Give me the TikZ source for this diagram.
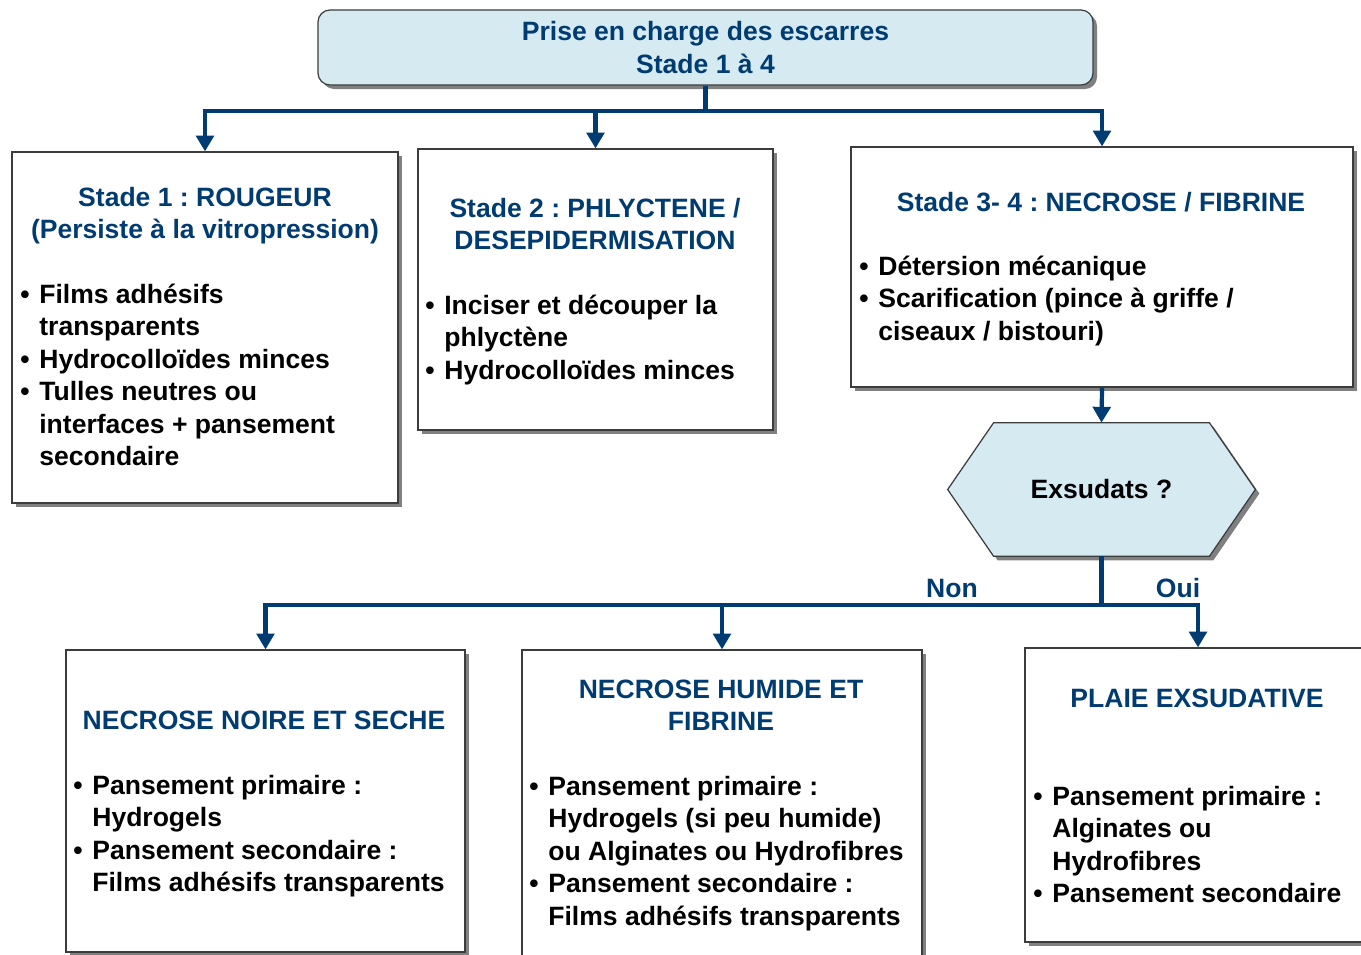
\documentclass[tikz,border=0pt]{standalone}
\usepackage{fontspec}
\setmainfont{Liberation Sans}
\usetikzlibrary{arrows.meta,shadows}
\newlength\pxu \setlength\pxu{0.02cm}
\definecolor{navy}{RGB}{0,60,113}
\definecolor{lblue}{RGB}{213,234,241}
\definecolor{bord}{RGB}{60,60,60}
\newcommand\bl{\makebox[19\pxu][l]{\textbullet}}
\frenchspacing
\begin{document}
\frenchspacing
\begin{tikzpicture}[x=0.02cm,y=-0.02cm,
  font=\fontsize{15.1}{18.5}\selectfont\bfseries\frenchspacing,
  shad/.style={drop shadow={shadow xshift=4\pxu,shadow yshift=-4\pxu,opacity=1,fill=black!50}},
  box/.style={draw=bord,line width=0.7pt,fill=white,inner sep=0,shad},
  ttl/.style={inner sep=0,anchor=base,text=navy},
  lst/.style={inner sep=0,anchor=base west,text=black},
  lbl/.style={inner sep=0,anchor=base,text=navy},
  conn/.style={draw=navy,line width=2.4pt},
  arr/.style={conn,-{Triangle[width=10pt,length=9pt]}}]
\clip (0,0) rectangle (1361,954);
\fill[white] (0,0) rectangle (1361,954);
% top box
\node[box,fill=lblue,rounded corners=12\pxu,minimum width=775\pxu,minimum height=75\pxu,text=navy,align=center]
  (top) at (705.5,47.5) {Prise en charge des escarres\\Stade 1 à 4};
% boxes
\node[box,minimum width=386\pxu,minimum height=351\pxu] (b1) at (205,327.5) {};
\node[box,minimum width=355\pxu,minimum height=281\pxu] (b2) at (595.5,289.5) {};
\node[box,minimum width=502\pxu,minimum height=240\pxu] (b3) at (1102,267) {};
\node[box,minimum width=399\pxu,minimum height=302\pxu] (b4) at (265.5,801) {};
\node[box,minimum width=400\pxu,minimum height=308\pxu] (b5) at (722,804) {};
\node[box,minimum width=346\pxu,minimum height=294\pxu] (b6) at (1198,795) {};
% hexagon
\node[inner sep=0,minimum width=307\pxu,minimum height=133\pxu] (hex) at (1101.5,489.5) {};
\draw[draw=bord,line width=0.7pt,fill=lblue,shad]
  (hex.west) -- ([xshift=46\pxu]hex.north west) -- ([xshift=-46\pxu]hex.north east)
  -- (hex.east) -- ([xshift=-46\pxu]hex.south east) -- ([xshift=46\pxu]hex.south west) -- cycle;
\node[inner sep=0,text=black] (hext) at (hex.center) {Exsudats ?};
% texts
\node[ttl] (t1) at (205,206) {\begin{tabular}[t]{@{}c@{}}Stade 1 : ROUGEUR\\(Persiste à la vitropression)\end{tabular}};
\node[lst] (l1) at (20,303) {\begin{tabular}[t]{@{}l@{}l@{}}\bl&Films adhésifs\\&transparents\\\bl&Hydrocolloïdes minces\\\bl&Tulles neutres ou\\&interfaces + pansement\\&secondaire\end{tabular}};
\node[ttl] (t2) at (595,217) {\begin{tabular}[t]{@{}c@{}}Stade 2 : PHLYCTENE /\\DESEPIDERMISATION\end{tabular}};
\node[lst] (l2) at (425,314) {\begin{tabular}[t]{@{}l@{}l@{}}\bl&Inciser et découper la\\&phlyctène\\\bl&Hydrocolloïdes minces\end{tabular}};
\node[ttl] (t3) at (1101,211) {Stade 3- 4 : NECROSE / FIBRINE};
\node[lst] (l3) at (859,275) {\begin{tabular}[t]{@{}l@{}l@{}}\bl&Détersion mécanique\\\bl&Scarification (pince à griffe /\\&ciseaux / bistouri)\end{tabular}};
\node[ttl] (t4) at (264,729) {NECROSE NOIRE ET SECHE};
\node[lst] (l4) at (73,794) {\begin{tabular}[t]{@{}l@{}l@{}}\bl&Pansement primaire :\\&Hydrogels\\\bl&Pansement secondaire :\\&Films adhésifs transparents\end{tabular}};
\node[ttl] (t5) at (721,698) {\begin{tabular}[t]{@{}c@{}}NECROSE HUMIDE ET\\FIBRINE\end{tabular}};
\node[lst] (l5) at (529,795) {\begin{tabular}[t]{@{}l@{}l@{}}\bl&Pansement primaire :\\&Hydrogels (si peu humide)\\&ou Alginates ou Hydrofibres\\\bl&Pansement secondaire :\\&Films adhésifs transparents\end{tabular}};
\node[ttl] (t6) at (1197,707) {PLAIE EXSUDATIVE};
\node[lst] (l6) at (1033,805) {\begin{tabular}[t]{@{}l@{}l@{}}\bl&Pansement primaire :\\&Alginates ou\\&Hydrofibres\\\bl&Pansement secondaire\end{tabular}};
% connectors
\draw[conn] (top.south) -- ++(0,25) coordinate (j1);
\draw[arr] (j1) -| (b1.north);
\draw[arr] (j1) -| (b2.north);
\draw[arr] (j1) -| (b3.north);
\draw[arr] (b3.south) -- (hex.north);
\draw[conn] (hex.south) -- ++(0,49) coordinate (j2);
\draw[arr] (j2) -| (b4.north);
\draw[arr] (j2) -| (b5.north);
\draw[arr] (j2) -| (b6.north);
\node[lbl] (non) at (952,597) {Non};
\node[lbl] (oui) at (1178,597) {Oui};
\end{tikzpicture}
\end{document}
